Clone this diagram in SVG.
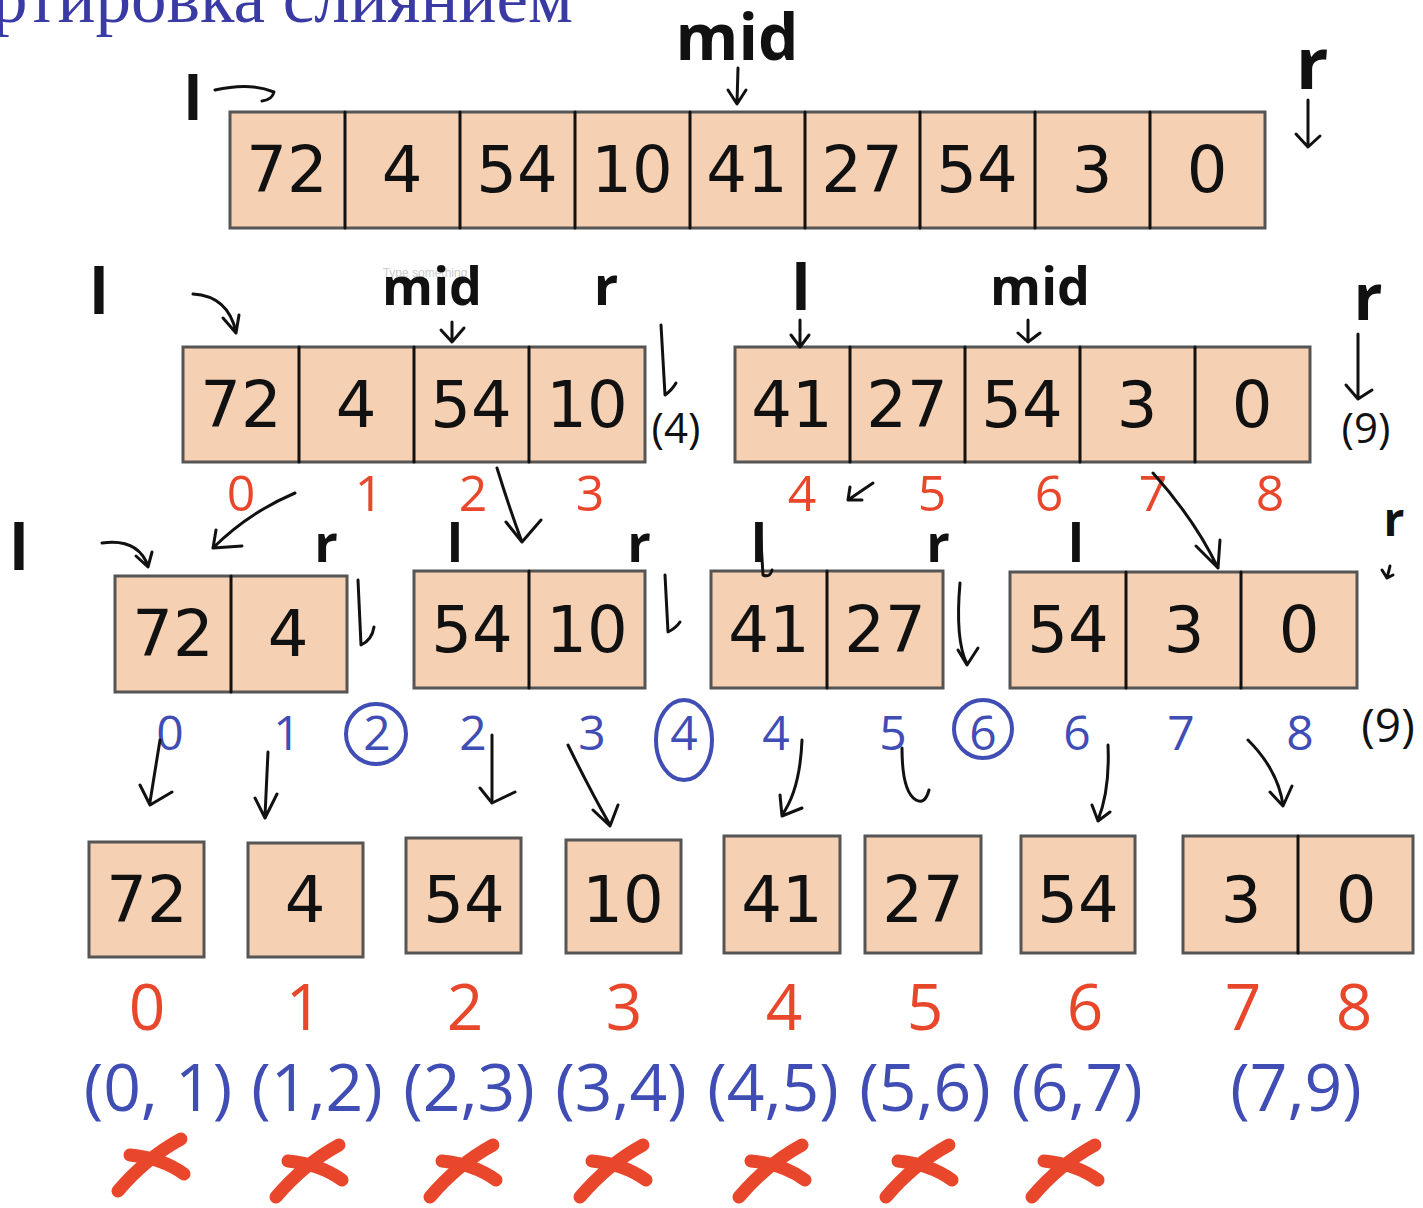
<svg xmlns="http://www.w3.org/2000/svg" width="1423" height="1208" viewBox="0 0 1423 1208">
<style>
.cell{fill:#f6d0b2;stroke:#555;stroke-width:3}
.num{font-family:"DejaVu Sans",sans-serif;font-size:64px;fill:#111;text-anchor:middle}
.lab{font-family:"Open Sans","Liberation Sans",sans-serif;font-weight:bold;fill:#111;text-anchor:middle}
.red{font-family:"Open Sans","Liberation Sans",sans-serif;fill:#e8472b;text-anchor:middle}
.blue{font-family:"Open Sans","Liberation Sans",sans-serif;fill:#3f4db5;text-anchor:middle}
.hand{font-family:"Open Sans","Liberation Sans",sans-serif;fill:#111;text-anchor:middle}
.arr{fill:none;stroke:#111;stroke-width:3;stroke-linecap:round;stroke-linejoin:round}
.circ{fill:none;stroke:#3f4db5;stroke-width:4}
.x{fill:none;stroke:#e8472b;stroke-width:13;stroke-linecap:round}
</style>
<rect width="1423" height="1208" fill="#fff"/>
<text x="-8" y="22" font-family="Liberation Serif,serif" font-size="71" fill="#3a3aa5">ртировка слиянием</text>
<text x="425" y="277" font-family="Liberation Sans,sans-serif" font-size="12" fill="#ccc" text-anchor="middle">Type something</text>

<g id="row1">
<rect class="cell" x="230" y="112" width="1035" height="116"/>
<path class="arr" d="M345,112V228M460,112V228M575,112V228M690,112V228M805,112V228M920,112V228M1035,112V228M1150,112V228" stroke-width="2.5"/>
<text class="num" y="192"><tspan x="287">72</tspan><tspan x="402">4</tspan><tspan x="517">54</tspan><tspan x="632">10</tspan><tspan x="747">41</tspan><tspan x="862">27</tspan><tspan x="977">54</tspan><tspan x="1092">3</tspan><tspan x="1207">0</tspan></text>
<text class="lab" x="193" y="120" font-size="60">l</text>
<text class="lab" x="737" y="60" font-size="64">mid</text>
<text class="lab" x="1312" y="89" font-size="72">r</text>
</g>

<g id="row2-left">
<rect class="cell" x="183" y="347" width="462" height="115"/>
<path class="arr" d="M299,347V462M414,347V462M529,347V462" stroke-width="2.5"/>
<text class="num" y="427"><tspan x="241">72</tspan><tspan x="356">4</tspan><tspan x="471">54</tspan><tspan x="587">10</tspan></text>
<text class="lab" x="99" y="314" font-size="62">l</text>
<text class="lab" x="432" y="305" font-size="52">mid</text>
<text class="lab" x="606" y="305" font-size="54">r</text>
<text class="hand" x="676" y="443" font-size="42">(4)</text>
<text class="red" font-size="50" y="511"><tspan x="241">0</tspan><tspan x="369">1</tspan><tspan x="473">2</tspan><tspan x="590">3</tspan></text>
</g>

<g id="row2-right">
<rect class="cell" x="735" y="347" width="575" height="115"/>
<path class="arr" d="M850,347V462M965,347V462M1080,347V462M1195,347V462" stroke-width="2.5"/>
<text class="num" y="427"><tspan x="792">41</tspan><tspan x="907">27</tspan><tspan x="1022">54</tspan><tspan x="1137">3</tspan><tspan x="1252">0</tspan></text>
<text class="lab" x="801" y="310" font-size="62">l</text>
<text class="lab" x="1040" y="305" font-size="52">mid</text>
<text class="lab" x="1368" y="320" font-size="64">r</text>
<text class="hand" x="1366" y="443" font-size="42">(9)</text>
<text class="red" font-size="50" y="511"><tspan x="802">4</tspan><tspan x="932">5</tspan><tspan x="1049">6</tspan><tspan x="1153">7</tspan><tspan x="1270">8</tspan></text>
</g>

<g id="row3-a">
<rect class="cell" x="115" y="576" width="232" height="116"/>
<path class="arr" d="M231,576V692" stroke-width="2.5"/>
<text class="num" y="656"><tspan x="173">72</tspan><tspan x="288">4</tspan></text>
<text class="lab" x="19" y="570" font-size="62">l</text>
<text class="lab" x="326" y="562" font-size="52">r</text>
</g>
<g id="row3-b">
<rect class="cell" x="414" y="571" width="231" height="117"/>
<path class="arr" d="M529,571V688" stroke-width="2.5"/>
<text class="num" y="652"><tspan x="472">54</tspan><tspan x="587">10</tspan></text>
<text class="lab" x="455" y="562" font-size="52">l</text>
<text class="lab" x="639" y="562" font-size="52">r</text>
</g>
<g id="row3-c">
<rect class="cell" x="711" y="571" width="232" height="117"/>
<path class="arr" d="M827,571V688" stroke-width="2.5"/>
<text class="num" y="652"><tspan x="769">41</tspan><tspan x="885">27</tspan></text>
<text class="lab" x="759" y="562" font-size="52">l</text>
<text class="lab" x="938" y="562" font-size="52">r</text>
</g>
<g id="row3-d">
<rect class="cell" x="1010" y="572" width="347" height="116"/>
<path class="arr" d="M1126,572V688M1241,572V688" stroke-width="2.5"/>
<text class="num" y="652"><tspan x="1068">54</tspan><tspan x="1184">3</tspan><tspan x="1299">0</tspan></text>
<text class="lab" x="1076" y="562" font-size="52">l</text>
<text class="lab" x="1394" y="536" font-size="46">r</text>
</g>

<g id="row3-idx">
<text class="blue" font-size="48" y="750"><tspan x="170">0</tspan><tspan x="287">1</tspan><tspan x="377">2</tspan><tspan x="473">2</tspan><tspan x="592">3</tspan><tspan x="684">4</tspan><tspan x="776">4</tspan><tspan x="893">5</tspan><tspan x="983">6</tspan><tspan x="1077">6</tspan><tspan x="1181">7</tspan><tspan x="1300">8</tspan></text>
<circle class="circ" cx="376" cy="734" r="30"/>
<ellipse class="circ" cx="684" cy="740" rx="28" ry="40"/>
<circle class="circ" cx="983" cy="729" r="29"/>
<text class="hand" x="1388" y="742" font-size="46">(9)</text>
</g>

<g id="leaves">
<rect class="cell" x="89" y="842" width="115" height="115"/>
<rect class="cell" x="248" y="843" width="115" height="114"/>
<rect class="cell" x="406" y="838" width="115" height="115"/>
<rect class="cell" x="566" y="840" width="115" height="113"/>
<rect class="cell" x="724" y="836" width="116" height="117"/>
<rect class="cell" x="865" y="836" width="116" height="117"/>
<rect class="cell" x="1021" y="836" width="114" height="117"/>
<rect class="cell" x="1183" y="836" width="230" height="117"/>
<path class="arr" d="M1298,836V953" stroke-width="2.5"/>
<text class="num" y="922"><tspan x="147">72</tspan><tspan x="305">4</tspan><tspan x="464">54</tspan><tspan x="623">10</tspan><tspan x="782">41</tspan><tspan x="923">27</tspan><tspan x="1078">54</tspan><tspan x="1241">3</tspan><tspan x="1356">0</tspan></text>
<text class="red" font-size="64" y="1030"><tspan x="147">0</tspan><tspan x="304">1</tspan><tspan x="465">2</tspan><tspan x="624">3</tspan><tspan x="784">4</tspan><tspan x="925">5</tspan><tspan x="1085">6</tspan><tspan x="1243">7</tspan><tspan x="1354">8</tspan></text>
<text class="blue" font-size="66" y="1111"><tspan x="158">(0, 1)</tspan><tspan x="317">(1,2)</tspan><tspan x="469">(2,3)</tspan><tspan x="621">(3,4)</tspan><tspan x="773">(4,5)</tspan><tspan x="925">(5,6)</tspan><tspan x="1077">(6,7)</tspan><tspan x="1296">(7,9)</tspan></text>
</g>

<g id="crosses">
<path class="x" d="M118,1191Q146,1158 181,1139M130,1155Q162,1158 184,1174"/>
<path class="x" d="M276,1197Q304,1164 339,1145M288,1161Q320,1164 342,1180"/>
<path class="x" d="M430,1197Q458,1164 493,1145M442,1161Q474,1164 496,1180"/>
<path class="x" d="M580,1197Q608,1164 643,1145M592,1161Q624,1164 646,1180"/>
<path class="x" d="M739,1197Q767,1164 802,1145M751,1161Q783,1164 805,1180"/>
<path class="x" d="M886,1197Q914,1164 949,1145M898,1161Q930,1164 952,1180"/>
<path class="x" d="M1032,1197Q1060,1164 1095,1145M1044,1161Q1076,1164 1098,1180"/>
</g>

<g id="connectors" class="arr">
<path d="M215,90Q250,82 274,92Q272,100 262,101"/>
<path d="M738,68L737,103M728,90L737,104L746,90"/>
<path d="M1308,100L1308,146M1296,134L1308,147L1320,136"/>
<path d="M193,294Q228,296 236,332M223,318L236,333L239,315"/>
<path d="M452,322L452,340M441,330L452,342L464,328"/>
<path d="M661,325L665,395Q672,390 676,383"/>
<path d="M800,320L800,346M791,335L800,347L809,335"/>
<path d="M1028,320L1028,340M1018,333L1028,342L1040,333"/>
<path d="M1358,334L1358,398M1346,385L1358,399L1372,390"/>
<path d="M295,493Q248,513 213,548M216,530L213,548L242,546"/>
<path d="M497,468Q510,510 522,542M506,522L522,542L541,520"/>
<path d="M873,483L848,500M850,487L848,500L862,500"/>
<path d="M1153,473Q1195,520 1218,568M1196,546L1218,568L1220,540"/>
<path d="M102,543Q138,538 148,566M136,556L148,567L152,552"/>
<path d="M358,580L361,645Q372,640 374,627"/>
<path d="M665,575L668,632Q676,628 680,622"/>
<path d="M760,526L763,575Q770,578 772,570"/>
<path d="M960,583Q955,640 967,664M958,650L967,665L978,648"/>
<path d="M1390,566L1387,578M1382,570L1387,578L1393,575"/>
<path d="M160,740L150,802M140,785L150,805L172,792"/>
<path d="M268,752L265,816M255,798L265,818L277,794"/>
<path d="M492,735L492,800M480,788L492,803L515,792"/>
<path d="M568,745Q590,790 610,825M593,810L610,826L618,805"/>
<path d="M802,740Q800,790 782,815M780,795L782,816L802,808"/>
<path d="M902,748Q902,792 916,800Q925,805 929,790"/>
<path d="M1108,745Q1110,790 1098,820M1092,805L1098,821L1110,812"/>
<path d="M1248,740Q1278,770 1283,805M1270,792L1283,806L1292,786"/>
</g>
</svg>
